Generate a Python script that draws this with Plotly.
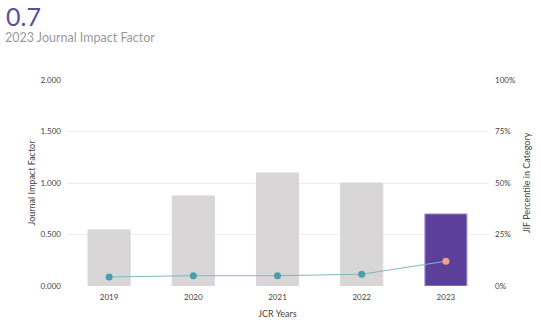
import plotly.graph_objects as go

years = ["2019", "2020", "2021", "2022", "2023"]
jif = [0.544, 0.874, 1.097, 1.0, 0.7]
percentile = [4.4, 5.0, 5.0, 5.7, 12.0]
y_ticks = [0, 0.5, 1.0, 1.5, 2.0]
y_tick_labels = ["0.000", "0.500", "1.000", "1.500", "2.000"]
p_ticks = [0, 25, 50, 75, 100]
p_tick_labels = ["0%", "25%", "50%", "75%", "100%"]

bar_colors = ["#d8d6d7"] * 4 + ["#5b3f9b"]
bar_lines = ["#d8d6d7"] * 4 + ["#a99ad0"]
marker_colors = ["#4a9eab"] * 4 + ["#f2a07f"]

fig = go.Figure()
fig.add_trace(go.Bar(x=years, y=jif, marker=dict(color=bar_colors, line=dict(color=bar_lines, width=1)),
                     yaxis="y", hoverinfo="skip"))
fig.add_trace(go.Scatter(x=years, y=percentile, yaxis="y2", mode="lines+markers",
                         line=dict(color="#7fb8c2", width=1),
                         marker=dict(color=marker_colors, size=7)))

PW, PH, L, T = 421, 206, 67, 80

fig.update_layout(
    width=541, height=326,
    margin=dict(l=67, r=53, t=80, b=40),
    paper_bgcolor="white", plot_bgcolor="white",
    showlegend=False, bargap=0.5,
    font=dict(family="Lato", color="#444"),
    xaxis=dict(tickfont=dict(size=8, color="#444"), showgrid=False, showline=False,
               ticklabelstandoff=5, automargin=False,
               title=dict(text="JCR Years", font=dict(size=9, color="#444"), standoff=9)),
    yaxis=dict(range=[0, 2.0], tickvals=y_ticks, ticktext=y_tick_labels,
               tickfont=dict(size=8, color="#444"), gridcolor="#eeeeee", zeroline=False,
               ticklabelstandoff=5, automargin=False,
               title=dict(text="Journal Impact Factor", font=dict(size=9, color="#444"), standoff=3)),
    yaxis2=dict(range=[0, 100], tickvals=p_ticks, ticktext=p_tick_labels, overlaying="y", side="right",
                tickfont=dict(size=8, color="#444"), showgrid=False, zeroline=False,
                ticklabelstandoff=6, automargin=False,
                title=dict(text="JIF Percentile in Category", font=dict(size=9, color="#444"), standoff=8)),
    annotations=[
        dict(text="0.7", x=(4 - L) / PW, y=1 + (T - 16) / PH, xref="paper", yref="paper", showarrow=False,
             xanchor="left", yanchor="middle", font=dict(size=25, color="#5d4e96", family="Lato")),
        dict(text="2023 Journal Impact Factor", x=(3 - L) / PW, y=1 + (T - 37) / PH, xref="paper", yref="paper",
             showarrow=False, xanchor="left", yanchor="middle", font=dict(size=12.5, color="#9a9a9a", family="Lato")),
    ],
)
fig.write_html("out.html")
